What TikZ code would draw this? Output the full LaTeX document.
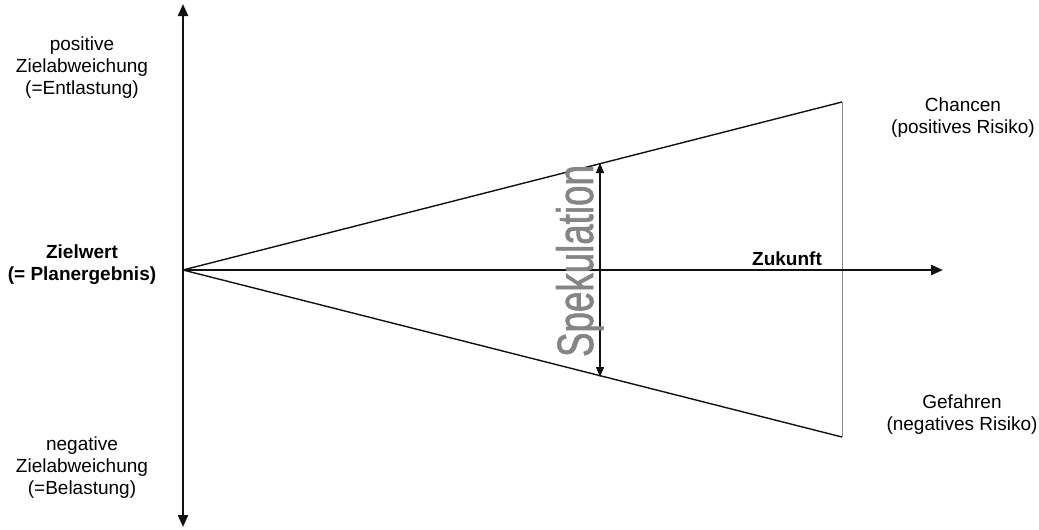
\documentclass[tikz,border=0pt]{standalone}
\usepackage{fontspec}
\setmainfont{Liberation Sans}
\newfontfamily\narrowfont[FakeStretch=0.72, FakeBold=1.2]{Liberation Sans}
\definecolor{mAxis}{HTML}{111111}
\definecolor{mEdge}{HTML}{8C8C8C}
\definecolor{mSpek}{HTML}{858585}
\usetikzlibrary{positioning,arrows.meta}

\begin{document}
\begin{tikzpicture}[x=0.5pt, y=-0.5pt, font=\fontsize{9.5}{11}\selectfont]
\useasboundingbox (0,0) rectangle (1039,530);
\coordinate (o) at (183,270);
\coordinate (top) at (183,4);
\coordinate (bot) at (183,527);
\coordinate (fut) at (943,270);
\coordinate (up) at (842,102);
\coordinate (down) at (842,437);
\coordinate (spekTop) at (600,163);
\coordinate (spekBot) at (600,377);
% cone
\draw[mAxis, line width=0.7pt] (o) -- (up);
\draw[mAxis, line width=0.7pt] (o) -- (down);
\draw[mEdge, line width=0.5pt] (up) -- (down);
% axes
\draw[-{Triangle[length=6pt, width=5pt]}, mAxis, line width=1.1pt] (o) -- (top);
\draw[-{Triangle[length=6pt, width=5pt]}, mAxis, line width=1.1pt] (o) -- (bot);
\draw[-{Triangle[length=6pt, width=5pt]}, mAxis, line width=1.1pt] (o) -- (fut);
\draw[{Triangle[length=5pt, width=4pt]}-{Triangle[length=5pt, width=4pt]}, mAxis, line width=0.6pt] (spekTop) -- (spekBot);
% labels
\node[align=center] (pos) at (82,68) {positive\\ Zielabweichung\\ (=Entlastung)};
\node[align=center, font=\fontsize{9.5}{11}\selectfont\bfseries] (ziel) at (82,265) {Zielwert\\ (= Planergebnis)};
\node[align=center] (neg) at (82,468) {negative\\ Zielabweichung\\ (=Belastung)};
\node[font=\fontsize{9.5}{11}\selectfont\bfseries] (zukunft) at (787,259) {Zukunft};
\node[align=center] (chancen) at (963,118) {Chancen\\ (positives Risiko)};
\node[align=center] (gefahren) at (962,415) {Gefahren\\ (negatives Risiko)};
\node[rotate=90, anchor=base, text=mSpek, font=\narrowfont\fontsize{25.5}{25.5}\selectfont] (spek) at (593,261) {Spekulation};
\end{tikzpicture}
\end{document}
